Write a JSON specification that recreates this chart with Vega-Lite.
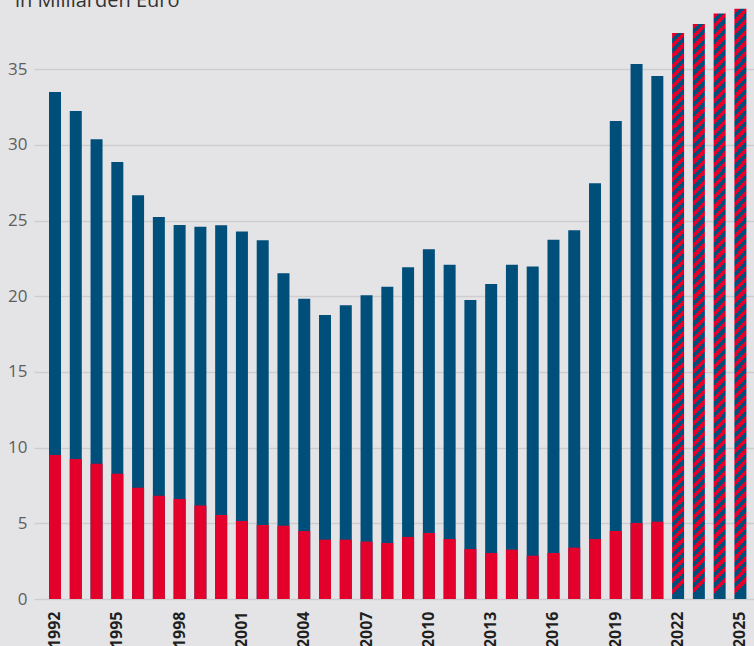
{
  "$schema": "https://vega.github.io/schema/vega-lite/v6.json",
  "width": 720,
  "height": 585,
  "autosize": {"type": "none"},
  "padding": {"left": 34, "top": 14, "right": 0, "bottom": 47},
  "background": "#e4e4e7",
  "config": {"view": {"stroke": null}, "font": "Open Sans"},
  "title": {"text": "in Milliarden Euro", "anchor": "start", "frame": "group", "dx": -19, "offset": -18, "baseline": "alphabetic", "fontSize": 20, "fontWeight": "normal", "color": "#333333", "font": "Open Sans"},
  "data": {"values": [
    {"jahr": 1992, "gesamt": 33.49, "anteil": 9.51},
    {"jahr": 1993, "gesamt": 32.23, "anteil": 9.25},
    {"jahr": 1994, "gesamt": 30.36, "anteil": 8.94},
    {"jahr": 1995, "gesamt": 28.86, "anteil": 8.28},
    {"jahr": 1996, "gesamt": 26.66, "anteil": 7.35},
    {"jahr": 1997, "gesamt": 25.23, "anteil": 6.82},
    {"jahr": 1998, "gesamt": 24.70, "anteil": 6.60},
    {"jahr": 1999, "gesamt": 24.59, "anteil": 6.17},
    {"jahr": 2000, "gesamt": 24.68, "anteil": 5.55},
    {"jahr": 2001, "gesamt": 24.28, "anteil": 5.15},
    {"jahr": 2002, "gesamt": 23.69, "anteil": 4.89},
    {"jahr": 2003, "gesamt": 21.51, "anteil": 4.84},
    {"jahr": 2004, "gesamt": 19.84, "anteil": 4.49},
    {"jahr": 2005, "gesamt": 18.76, "anteil": 3.92},
    {"jahr": 2006, "gesamt": 19.40, "anteil": 3.92},
    {"jahr": 2007, "gesamt": 20.06, "anteil": 3.79},
    {"jahr": 2008, "gesamt": 20.63, "anteil": 3.70},
    {"jahr": 2009, "gesamt": 21.91, "anteil": 4.10},
    {"jahr": 2010, "gesamt": 23.10, "anteil": 4.36},
    {"jahr": 2011, "gesamt": 22.07, "anteil": 3.96},
    {"jahr": 2012, "gesamt": 19.75, "anteil": 3.30},
    {"jahr": 2013, "gesamt": 20.81, "anteil": 3.04},
    {"jahr": 2014, "gesamt": 22.08, "anteil": 3.26},
    {"jahr": 2015, "gesamt": 21.97, "anteil": 2.86},
    {"jahr": 2016, "gesamt": 23.73, "anteil": 3.04},
    {"jahr": 2017, "gesamt": 24.35, "anteil": 3.39},
    {"jahr": 2018, "gesamt": 27.46, "anteil": 3.96},
    {"jahr": 2019, "gesamt": 31.57, "anteil": 4.49},
    {"jahr": 2020, "gesamt": 35.34, "anteil": 5.02},
    {"jahr": 2021, "gesamt": 34.54, "anteil": 5.11},
    {"jahr": 2022, "gesamt": 37.38, "anteil": null},
    {"jahr": 2023, "gesamt": 37.98, "anteil": null},
    {"jahr": 2024, "gesamt": 38.68, "anteil": null},
    {"jahr": 2025, "gesamt": 38.99, "anteil": null}
  ]},
  "encoding": {
    "x": {
      "field": "jahr", "type": "ordinal", "title": null,
      "scale": {"paddingInner": 0.422, "paddingOuter": 0.544, "align": 0.664},
      "axis": {"values": [1992, 1995, 1998, 2001, 2004, 2007, 2010, 2013, 2016, 2019, 2022, 2025], "labelAngle": -90, "labelAlign": "right", "labelBaseline": "middle", "labelPadding": 12, "labelFontSize": 16, "labelFontWeight": "bold", "labelColor": "#1f1f1f", "labelFont": "Open Sans", "ticks": false, "domain": false, "title": null}
    },
    "y": {
      "field": "gesamt", "type": "quantitative", "title": null,
      "scale": {"domain": [0, 38.64], "nice": false, "zero": true},
      "axis": {"values": [0, 5, 10, 15, 20, 25, 30, 35], "domain": false, "ticks": false, "labelPadding": 7, "labelFontSize": 17, "labelColor": "#5e5e5e", "labelFont": "Open Sans", "gridColor": "#cdcdd0", "gridWidth": 1.5, "title": null}
    }
  },
  "layer": [
    {
      "transform": [{"filter": "datum.jahr <= 2021"}],
      "mark": {"type": "bar", "color": "#004f7b"}
    },
    {
      "transform": [{"filter": "datum.jahr <= 2021"}],
      "mark": {"type": "bar", "color": "#e3002b"},
      "encoding": {"y": {"field": "anteil", "type": "quantitative", "title": null}}
    },
    {
      "transform": [{"filter": "datum.jahr >= 2022"}],
      "mark": {"type": "bar", "fill": {"gradient": "linear", "x1": 0, "y1": 0, "x2": 0.0208, "y2": 1, "stops": [
        {"offset": 0, "color": "#e3002b"},
        {"offset": 0.0091, "color": "#e3002b"}, {"offset": 0.0091, "color": "#004f7b"},
        {"offset": 0.0182, "color": "#004f7b"}, {"offset": 0.0182, "color": "#e3002b"},
        {"offset": 0.0273, "color": "#e3002b"}, {"offset": 0.0273, "color": "#004f7b"},
        {"offset": 0.0364, "color": "#004f7b"}, {"offset": 0.0364, "color": "#e3002b"},
        {"offset": 0.0455, "color": "#e3002b"}, {"offset": 0.0455, "color": "#004f7b"},
        {"offset": 0.0545, "color": "#004f7b"}, {"offset": 0.0545, "color": "#e3002b"},
        {"offset": 0.0636, "color": "#e3002b"}, {"offset": 0.0636, "color": "#004f7b"},
        {"offset": 0.0727, "color": "#004f7b"}, {"offset": 0.0727, "color": "#e3002b"},
        {"offset": 0.0818, "color": "#e3002b"}, {"offset": 0.0818, "color": "#004f7b"},
        {"offset": 0.0909, "color": "#004f7b"}, {"offset": 0.0909, "color": "#e3002b"},
        {"offset": 0.1, "color": "#e3002b"}, {"offset": 0.1, "color": "#004f7b"},
        {"offset": 0.1091, "color": "#004f7b"}, {"offset": 0.1091, "color": "#e3002b"},
        {"offset": 0.1182, "color": "#e3002b"}, {"offset": 0.1182, "color": "#004f7b"},
        {"offset": 0.1273, "color": "#004f7b"}, {"offset": 0.1273, "color": "#e3002b"},
        {"offset": 0.1364, "color": "#e3002b"}, {"offset": 0.1364, "color": "#004f7b"},
        {"offset": 0.1455, "color": "#004f7b"}, {"offset": 0.1455, "color": "#e3002b"},
        {"offset": 0.1545, "color": "#e3002b"}, {"offset": 0.1545, "color": "#004f7b"},
        {"offset": 0.1636, "color": "#004f7b"}, {"offset": 0.1636, "color": "#e3002b"},
        {"offset": 0.1727, "color": "#e3002b"}, {"offset": 0.1727, "color": "#004f7b"},
        {"offset": 0.1818, "color": "#004f7b"}, {"offset": 0.1818, "color": "#e3002b"},
        {"offset": 0.1909, "color": "#e3002b"}, {"offset": 0.1909, "color": "#004f7b"},
        {"offset": 0.2, "color": "#004f7b"}, {"offset": 0.2, "color": "#e3002b"},
        {"offset": 0.2091, "color": "#e3002b"}, {"offset": 0.2091, "color": "#004f7b"},
        {"offset": 0.2182, "color": "#004f7b"}, {"offset": 0.2182, "color": "#e3002b"},
        {"offset": 0.2273, "color": "#e3002b"}, {"offset": 0.2273, "color": "#004f7b"},
        {"offset": 0.2364, "color": "#004f7b"}, {"offset": 0.2364, "color": "#e3002b"},
        {"offset": 0.2455, "color": "#e3002b"}, {"offset": 0.2455, "color": "#004f7b"},
        {"offset": 0.2545, "color": "#004f7b"}, {"offset": 0.2545, "color": "#e3002b"},
        {"offset": 0.2636, "color": "#e3002b"}, {"offset": 0.2636, "color": "#004f7b"},
        {"offset": 0.2727, "color": "#004f7b"}, {"offset": 0.2727, "color": "#e3002b"},
        {"offset": 0.2818, "color": "#e3002b"}, {"offset": 0.2818, "color": "#004f7b"},
        {"offset": 0.2909, "color": "#004f7b"}, {"offset": 0.2909, "color": "#e3002b"},
        {"offset": 0.3, "color": "#e3002b"}, {"offset": 0.3, "color": "#004f7b"},
        {"offset": 0.3091, "color": "#004f7b"}, {"offset": 0.3091, "color": "#e3002b"},
        {"offset": 0.3182, "color": "#e3002b"}, {"offset": 0.3182, "color": "#004f7b"},
        {"offset": 0.3273, "color": "#004f7b"}, {"offset": 0.3273, "color": "#e3002b"},
        {"offset": 0.3364, "color": "#e3002b"}, {"offset": 0.3364, "color": "#004f7b"},
        {"offset": 0.3455, "color": "#004f7b"}, {"offset": 0.3455, "color": "#e3002b"},
        {"offset": 0.3545, "color": "#e3002b"}, {"offset": 0.3545, "color": "#004f7b"},
        {"offset": 0.3636, "color": "#004f7b"}, {"offset": 0.3636, "color": "#e3002b"},
        {"offset": 0.3727, "color": "#e3002b"}, {"offset": 0.3727, "color": "#004f7b"},
        {"offset": 0.3818, "color": "#004f7b"}, {"offset": 0.3818, "color": "#e3002b"},
        {"offset": 0.3909, "color": "#e3002b"}, {"offset": 0.3909, "color": "#004f7b"},
        {"offset": 0.4, "color": "#004f7b"}, {"offset": 0.4, "color": "#e3002b"},
        {"offset": 0.4091, "color": "#e3002b"}, {"offset": 0.4091, "color": "#004f7b"},
        {"offset": 0.4182, "color": "#004f7b"}, {"offset": 0.4182, "color": "#e3002b"},
        {"offset": 0.4273, "color": "#e3002b"}, {"offset": 0.4273, "color": "#004f7b"},
        {"offset": 0.4364, "color": "#004f7b"}, {"offset": 0.4364, "color": "#e3002b"},
        {"offset": 0.4455, "color": "#e3002b"}, {"offset": 0.4455, "color": "#004f7b"},
        {"offset": 0.4545, "color": "#004f7b"}, {"offset": 0.4545, "color": "#e3002b"},
        {"offset": 0.4636, "color": "#e3002b"}, {"offset": 0.4636, "color": "#004f7b"},
        {"offset": 0.4727, "color": "#004f7b"}, {"offset": 0.4727, "color": "#e3002b"},
        {"offset": 0.4818, "color": "#e3002b"}, {"offset": 0.4818, "color": "#004f7b"},
        {"offset": 0.4909, "color": "#004f7b"}, {"offset": 0.4909, "color": "#e3002b"},
        {"offset": 0.5, "color": "#e3002b"}, {"offset": 0.5, "color": "#004f7b"},
        {"offset": 0.5091, "color": "#004f7b"}, {"offset": 0.5091, "color": "#e3002b"},
        {"offset": 0.5182, "color": "#e3002b"}, {"offset": 0.5182, "color": "#004f7b"},
        {"offset": 0.5273, "color": "#004f7b"}, {"offset": 0.5273, "color": "#e3002b"},
        {"offset": 0.5364, "color": "#e3002b"}, {"offset": 0.5364, "color": "#004f7b"},
        {"offset": 0.5455, "color": "#004f7b"}, {"offset": 0.5455, "color": "#e3002b"},
        {"offset": 0.5545, "color": "#e3002b"}, {"offset": 0.5545, "color": "#004f7b"},
        {"offset": 0.5636, "color": "#004f7b"}, {"offset": 0.5636, "color": "#e3002b"},
        {"offset": 0.5727, "color": "#e3002b"}, {"offset": 0.5727, "color": "#004f7b"},
        {"offset": 0.5818, "color": "#004f7b"}, {"offset": 0.5818, "color": "#e3002b"},
        {"offset": 0.5909, "color": "#e3002b"}, {"offset": 0.5909, "color": "#004f7b"},
        {"offset": 0.6, "color": "#004f7b"}, {"offset": 0.6, "color": "#e3002b"},
        {"offset": 0.6091, "color": "#e3002b"}, {"offset": 0.6091, "color": "#004f7b"},
        {"offset": 0.6182, "color": "#004f7b"}, {"offset": 0.6182, "color": "#e3002b"},
        {"offset": 0.6273, "color": "#e3002b"}, {"offset": 0.6273, "color": "#004f7b"},
        {"offset": 0.6364, "color": "#004f7b"}, {"offset": 0.6364, "color": "#e3002b"},
        {"offset": 0.6455, "color": "#e3002b"}, {"offset": 0.6455, "color": "#004f7b"},
        {"offset": 0.6545, "color": "#004f7b"}, {"offset": 0.6545, "color": "#e3002b"},
        {"offset": 0.6636, "color": "#e3002b"}, {"offset": 0.6636, "color": "#004f7b"},
        {"offset": 0.6727, "color": "#004f7b"}, {"offset": 0.6727, "color": "#e3002b"},
        {"offset": 0.6818, "color": "#e3002b"}, {"offset": 0.6818, "color": "#004f7b"},
        {"offset": 0.6909, "color": "#004f7b"}, {"offset": 0.6909, "color": "#e3002b"},
        {"offset": 0.7, "color": "#e3002b"}, {"offset": 0.7, "color": "#004f7b"},
        {"offset": 0.7091, "color": "#004f7b"}, {"offset": 0.7091, "color": "#e3002b"},
        {"offset": 0.7182, "color": "#e3002b"}, {"offset": 0.7182, "color": "#004f7b"},
        {"offset": 0.7273, "color": "#004f7b"}, {"offset": 0.7273, "color": "#e3002b"},
        {"offset": 0.7364, "color": "#e3002b"}, {"offset": 0.7364, "color": "#004f7b"},
        {"offset": 0.7455, "color": "#004f7b"}, {"offset": 0.7455, "color": "#e3002b"},
        {"offset": 0.7545, "color": "#e3002b"}, {"offset": 0.7545, "color": "#004f7b"},
        {"offset": 0.7636, "color": "#004f7b"}, {"offset": 0.7636, "color": "#e3002b"},
        {"offset": 0.7727, "color": "#e3002b"}, {"offset": 0.7727, "color": "#004f7b"},
        {"offset": 0.7818, "color": "#004f7b"}, {"offset": 0.7818, "color": "#e3002b"},
        {"offset": 0.7909, "color": "#e3002b"}, {"offset": 0.7909, "color": "#004f7b"},
        {"offset": 0.8, "color": "#004f7b"}, {"offset": 0.8, "color": "#e3002b"},
        {"offset": 0.8091, "color": "#e3002b"}, {"offset": 0.8091, "color": "#004f7b"},
        {"offset": 0.8182, "color": "#004f7b"}, {"offset": 0.8182, "color": "#e3002b"},
        {"offset": 0.8273, "color": "#e3002b"}, {"offset": 0.8273, "color": "#004f7b"},
        {"offset": 0.8364, "color": "#004f7b"}, {"offset": 0.8364, "color": "#e3002b"},
        {"offset": 0.8455, "color": "#e3002b"}, {"offset": 0.8455, "color": "#004f7b"},
        {"offset": 0.8545, "color": "#004f7b"}, {"offset": 0.8545, "color": "#e3002b"},
        {"offset": 0.8636, "color": "#e3002b"}, {"offset": 0.8636, "color": "#004f7b"},
        {"offset": 0.8727, "color": "#004f7b"}, {"offset": 0.8727, "color": "#e3002b"},
        {"offset": 0.8818, "color": "#e3002b"}, {"offset": 0.8818, "color": "#004f7b"},
        {"offset": 0.8909, "color": "#004f7b"}, {"offset": 0.8909, "color": "#e3002b"},
        {"offset": 0.9, "color": "#e3002b"}, {"offset": 0.9, "color": "#004f7b"},
        {"offset": 0.9091, "color": "#004f7b"}, {"offset": 0.9091, "color": "#e3002b"},
        {"offset": 0.9182, "color": "#e3002b"}, {"offset": 0.9182, "color": "#004f7b"},
        {"offset": 0.9273, "color": "#004f7b"}, {"offset": 0.9273, "color": "#e3002b"},
        {"offset": 0.9364, "color": "#e3002b"}, {"offset": 0.9364, "color": "#004f7b"},
        {"offset": 0.9455, "color": "#004f7b"}, {"offset": 0.9455, "color": "#e3002b"},
        {"offset": 0.9545, "color": "#e3002b"}, {"offset": 0.9545, "color": "#004f7b"},
        {"offset": 0.9636, "color": "#004f7b"}, {"offset": 0.9636, "color": "#e3002b"},
        {"offset": 0.9727, "color": "#e3002b"}, {"offset": 0.9727, "color": "#004f7b"},
        {"offset": 0.9818, "color": "#004f7b"}, {"offset": 0.9818, "color": "#e3002b"},
        {"offset": 0.9909, "color": "#e3002b"}, {"offset": 0.9909, "color": "#004f7b"},
        {"offset": 1, "color": "#004f7b"}
      ]}}
    }
  ]
}
